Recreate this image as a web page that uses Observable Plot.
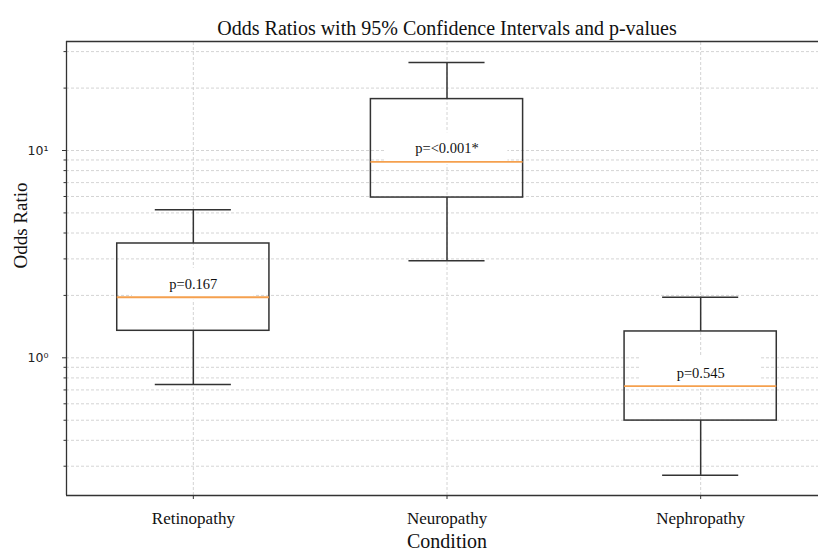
<!DOCTYPE html>
<html>
<head>
<meta charset="utf-8">
<script src="https://cdn.jsdelivr.net/npm/d3@7"></script>
<script src="https://cdn.jsdelivr.net/npm/@observablehq/plot@0.6"></script>
<style>
  html, body { margin: 0; padding: 0; background: #fff; overflow: hidden; }
  #chart { width: 818px; height: 552px; }
</style>
</head>
<body>
<div id="chart"></div>
<script>
const conditions = ["Retinopathy", "Neuropathy", "Nephropathy"];
const positions = [1, 2, 3];
const whiskerLow = [0.743, 2.94, 0.271];
const q1 = [1.35, 5.93, 0.498];
const medians = [1.96, 8.82, 0.73];
const q3 = [3.56, 17.7, 1.34];
const whiskerHigh = [5.18, 26.6, 1.96];
const pLabels = ["p=0.167", "p=<0.001*", "p=0.545"];

const yMajor = [1, 10];
const yMajorLabels = ["10\u2070", "10\u00B9"];
const yMinor = [0.3, 0.4, 0.5, 0.6, 0.7, 0.8, 0.9, 2, 3, 4, 5, 6, 7, 8, 9, 20, 30];
const yDomain = [0.2167, 33.56];
const xDomain = [0.5, 3.5];

const rows = conditions.map((c, i) => ({
  name: c, pos: positions[i], lo: whiskerLow[i], q1: q1[i], med: medians[i],
  q3: q3[i], hi: whiskerHigh[i], p: pLabels[i]
}));

const serif = "'Liberation Serif', 'Times New Roman', serif";
const dark = "#333";
const gridColor = "#cfcfcf";
const half = 0.3, cap = 0.15, bbox = 0.24;

const chart = Plot.plot({
  width: 818,
  height: 552,
  marginLeft: 66,
  marginRight: 0,
  marginTop: 41,
  marginBottom: 57,
  style: { background: "#fff", overflow: "hidden" },
  x: { type: "linear", domain: xDomain, range: [66, 827] },
  y: { type: "log", domain: yDomain },
  marks: [
    // grid
    Plot.ruleY([...yMajor, ...yMinor], { x1: xDomain[0], x2: xDomain[1], stroke: gridColor, strokeWidth: 0.9, strokeDasharray: "3,2" }),
    Plot.ruleX(positions, { y1: yDomain[0], y2: yDomain[1], stroke: gridColor, strokeWidth: 0.9, strokeDasharray: "3,2" }),
    // text backgrounds
    Plot.rect(rows, { x1: d => d.pos - bbox, x2: d => d.pos + bbox, y1: "med", y2: "med", insetTop: -29, insetBottom: -3, fill: "#fff" }),
    // whiskers
    Plot.ruleX(rows, { x: "pos", y1: "q3", y2: "hi", stroke: dark, strokeWidth: 1.5 }),
    Plot.ruleX(rows, { x: "pos", y1: "lo", y2: "q1", stroke: dark, strokeWidth: 1.5 }),
    Plot.ruleY(rows, { y: "hi", x1: d => d.pos - cap, x2: d => d.pos + cap, stroke: dark, strokeWidth: 1.5 }),
    Plot.ruleY(rows, { y: "lo", x1: d => d.pos - cap, x2: d => d.pos + cap, stroke: dark, strokeWidth: 1.5 }),
    // boxes
    Plot.rect(rows, { x1: d => d.pos - half, x2: d => d.pos + half, y1: "q1", y2: "q3", fill: "none", stroke: dark, strokeWidth: 1.5 }),
    // medians
    Plot.ruleY(rows, { y: "med", x1: d => d.pos - half, x2: d => d.pos + half, stroke: "#f5a04e", strokeWidth: 1.8 }),
    // p-value labels
    Plot.text(rows, { x: "pos", y: "med", text: "p", dy: -13, fontFamily: serif, fontSize: 14.5, fill: "#111" }),
    // frame
    Plot.ruleX([xDomain[0]], { y1: yDomain[0], y2: yDomain[1], stroke: dark, strokeWidth: 1.3 }),
    Plot.ruleY([yDomain[0], yDomain[1]], { x1: xDomain[0], x2: xDomain[1], stroke: dark, strokeWidth: 1.3 }),
    // axes
    Plot.axisY(yMajor, { tickSize: 4, tickPadding: 14, tickFormat: (d) => yMajorLabels[yMajor.indexOf(d)], fontFamily: "'DejaVu Sans', sans-serif", fontSize: 12.5, label: null, stroke: dark, fill: "#222" }),
    Plot.axisY(yMinor, { tickSize: 2.5, tickFormat: () => "", label: null, stroke: dark }),
    Plot.axisX(positions, { tickSize: 4, tickPadding: 12, tickFormat: d => conditions[positions.indexOf(d)], fontFamily: serif, fontSize: 17, label: null, stroke: dark, fill: "#111" }),
    // labels
    Plot.text(["Condition"], { x: 2, frameAnchor: "bottom", dy: 52, fontFamily: serif, fontSize: 20, fill: "#111" }),
    Plot.text(["Odds Ratio"], { frameAnchor: "left", dx: -46, rotate: -90, fontFamily: serif, fontSize: 19, fill: "#111" }),
    Plot.text(["Odds Ratios with 95% Confidence Intervals and p-values"], { x: 2, frameAnchor: "top", dy: -20.5, fontFamily: serif, fontSize: 20, fill: "#111" })
  ]
});
document.getElementById("chart").appendChild(chart);
</script>
</body>
</html>
